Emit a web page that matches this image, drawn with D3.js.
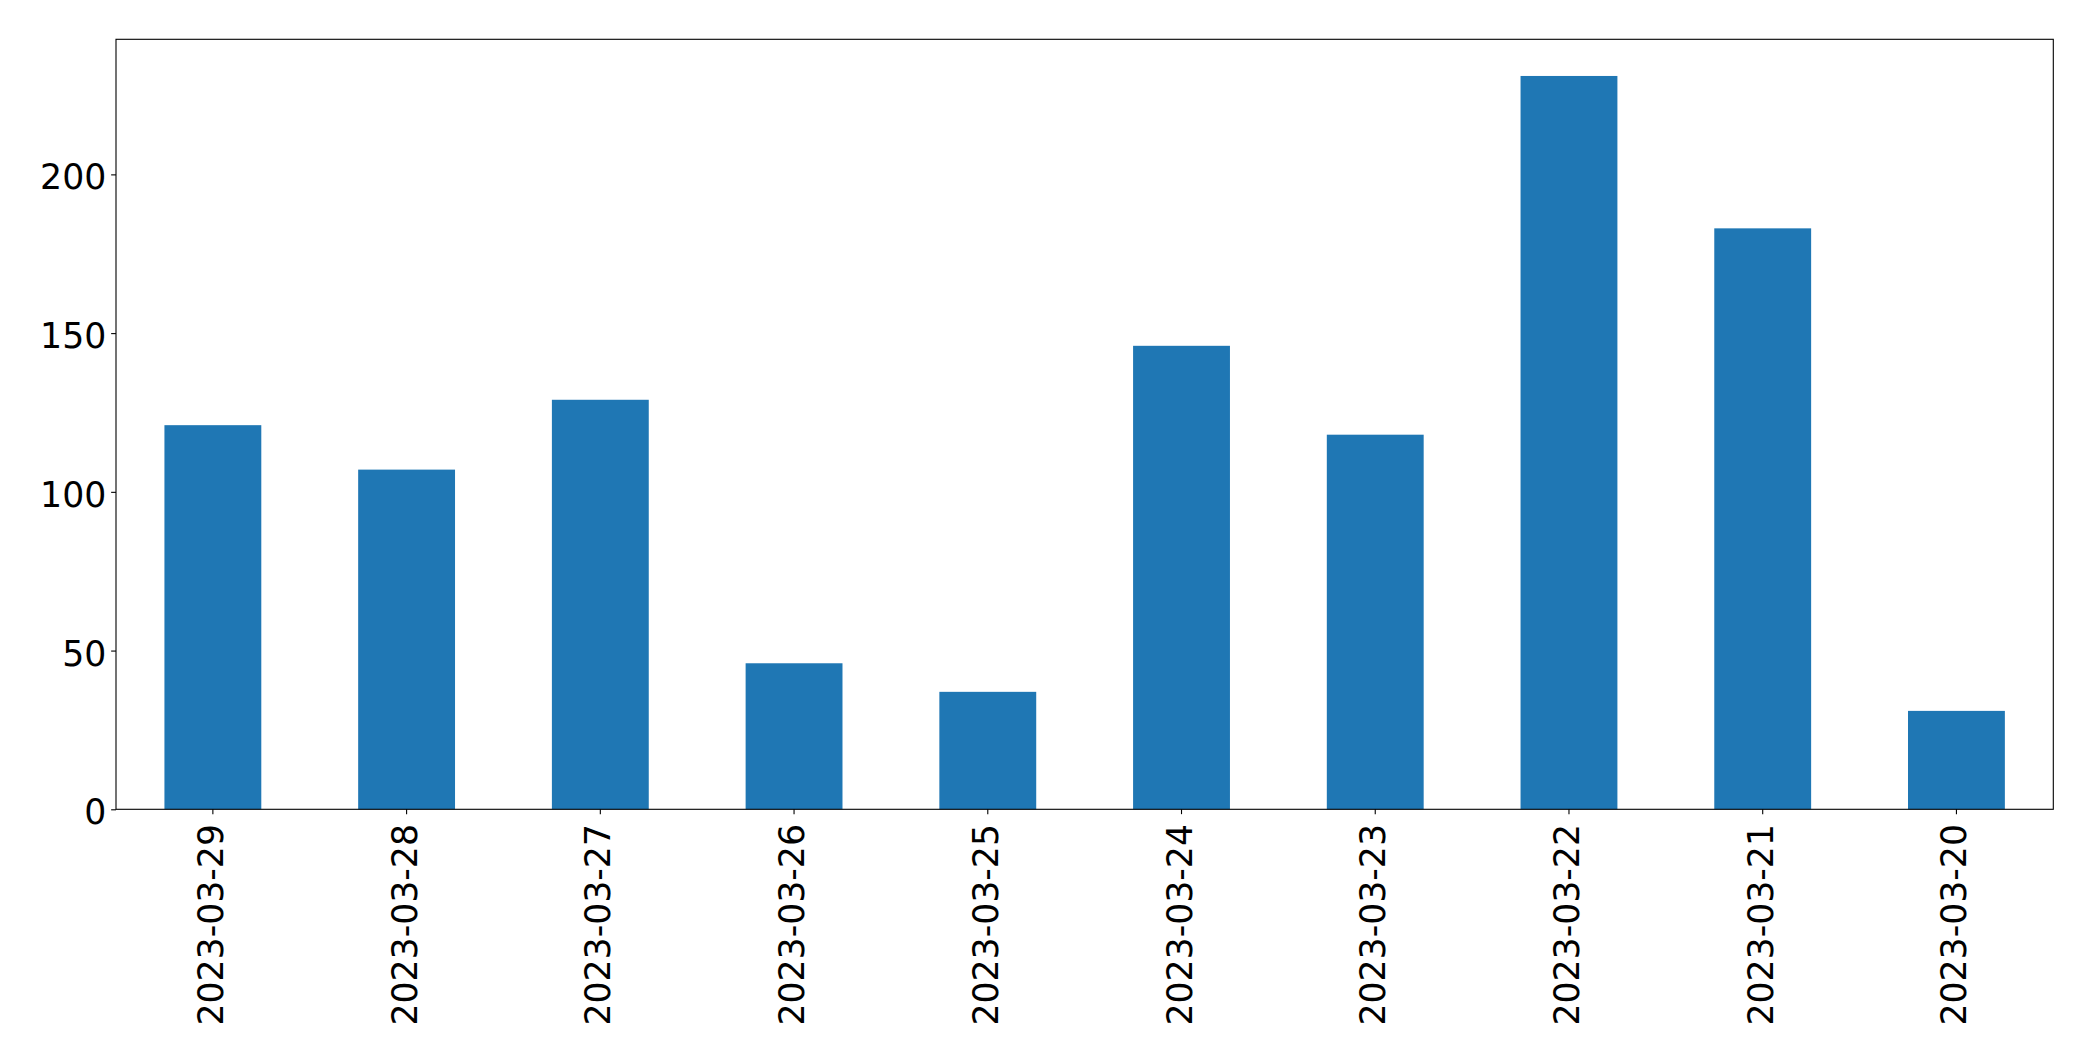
<!DOCTYPE html>
<html>
<head>
<meta charset="utf-8">
<script src="https://cdn.jsdelivr.net/npm/d3@7"></script>
<style>
  html, body { margin: 0; padding: 0; background: #fff; }
  svg { display: block; }
</style>
</head>
<body>
<svg id="chart" width="2093" height="1061"></svg>
<script>
const categories = ["2023-03-29", "2023-03-28", "2023-03-27", "2023-03-26", "2023-03-25",
                    "2023-03-24", "2023-03-23", "2023-03-22", "2023-03-21", "2023-03-20"];
const values = [121, 107, 129, 46, 37, 146, 118, 231, 183, 31];
const yTicks = [0, 50, 100, 150, 200];

(function () {
  const mLeft = 116, mRight = 2053.3, mTop = 39.3, mBottom = 809.3;
  const fontSize = 34.7;
  const tickLen = 4.86, tickPad = 4.86;
  const font = "DejaVu Sans, sans-serif";

  const svg = d3.select("#chart");

  const x = d3.scaleBand()
    .domain(categories)
    .range([mLeft, mRight])
    .paddingInner(0.5)
    .paddingOuter(0.25);

  const y = d3.scaleLinear()
    .domain([0, d3.max(values) * 1.05])
    .range([mBottom, mTop]);

  // bars
  svg.append("g")
    .selectAll("rect")
    .data(values)
    .join("rect")
    .attr("x", (d, i) => x(categories[i]))
    .attr("width", x.bandwidth())
    .attr("y", d => y(d))
    .attr("height", d => y(0) - y(d))
    .attr("fill", "#1f77b4");

  // y axis
  const yAxis = svg.append("g")
    .attr("transform", `translate(${mLeft},0)`)
    .call(d3.axisLeft(y).tickValues(yTicks).tickFormat(d3.format("d"))
          .tickSize(tickLen).tickPadding(tickPad));
  yAxis.select(".domain").remove();
  yAxis.selectAll("line").attr("stroke", "#000").attr("stroke-width", 1.1);
  yAxis.selectAll("text")
    .attr("font-family", font)
    .attr("font-size", fontSize)
    .attr("fill", "#000")
    .attr("dy", "0.42em");

  // x axis
  const xAxis = svg.append("g")
    .attr("transform", `translate(0,${mBottom})`)
    .call(d3.axisBottom(x).tickSize(tickLen).tickPadding(tickPad));
  xAxis.select(".domain").remove();
  xAxis.selectAll("line").attr("stroke", "#000").attr("stroke-width", 1.1);
  xAxis.selectAll("text")
    .attr("font-family", font)
    .attr("font-size", fontSize)
    .attr("fill", "#000")
    .attr("y", 0)
    .attr("dy", null)
    .attr("text-anchor", "end")
    .attr("transform", `translate(10,${tickLen + tickPad + 5}) rotate(-90)`);

  // frame (spines)
  svg.append("rect")
    .attr("x", mLeft)
    .attr("y", mTop)
    .attr("width", mRight - mLeft)
    .attr("height", mBottom - mTop)
    .attr("fill", "none")
    .attr("stroke", "#000")
    .attr("stroke-width", 1.1);
})();
</script>
</body>
</html>
